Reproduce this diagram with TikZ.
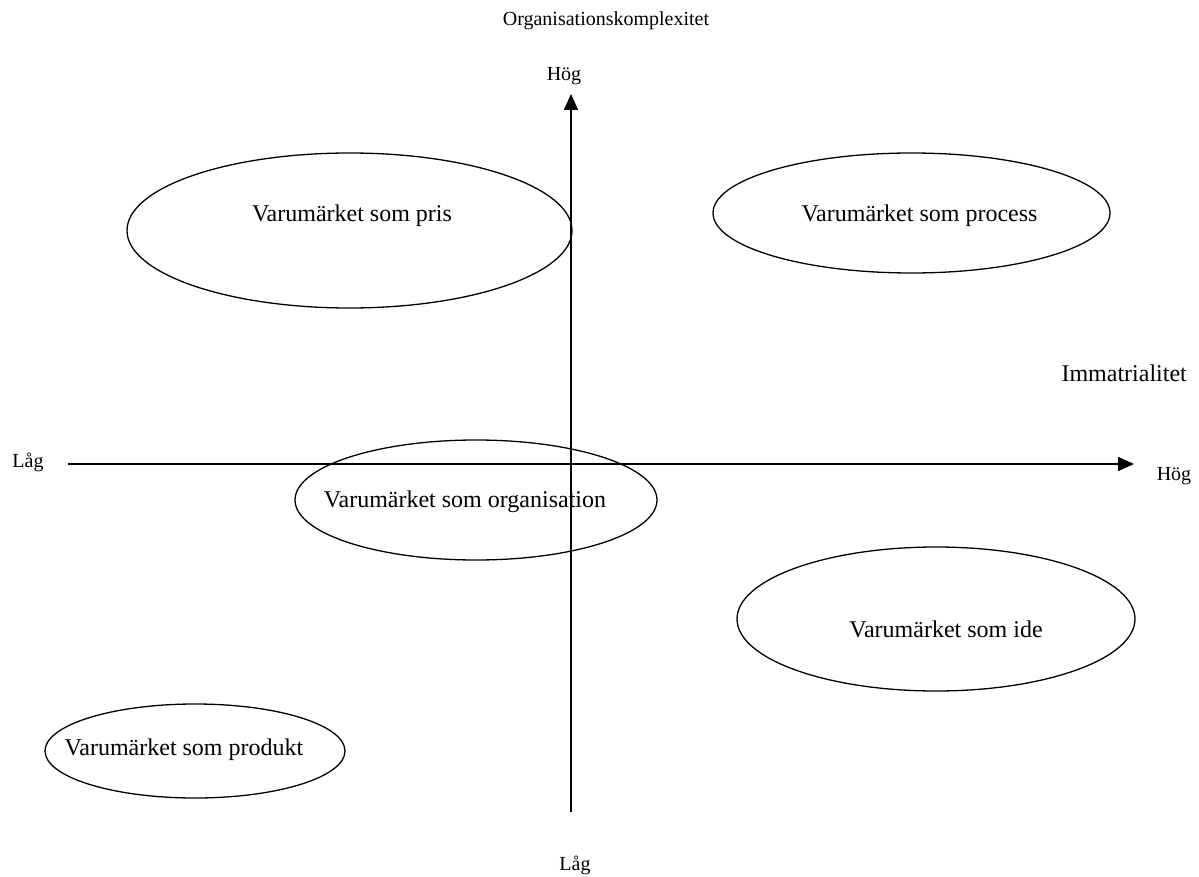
\documentclass[tikz,border=0pt]{standalone}
\usepackage{fontspec}
\setmainfont{Liberation Serif}
\usetikzlibrary{arrows.meta,shapes.geometric}
\begin{document}
\begin{tikzpicture}[x=1pt,y=-1pt,
  axis/.style={line width=1.5pt,-{Triangle[length=16pt,width=14pt]}},
  oval/.style={draw,ellipse,line width=1.3pt,inner sep=0pt},
  big/.style={font=\fontsize{24}{28}\selectfont,inner sep=0pt,anchor=base},
  small/.style={font=\fontsize{20}{24}\selectfont,inner sep=0pt,anchor=base}]
\useasboundingbox (0,0) rectangle (1199,877);

% axes
\coordinate (vlow) at (571,812);
\coordinate (vhigh) at (571,94);
\coordinate (hlow) at (68,464);
\coordinate (hhigh) at (1134,464);
\draw[axis] (vlow) -- (vhigh);
\draw[axis] (hlow) -- (hhigh);

% axis labels
\node[small] (title) at (606,26) {Organisationskomplexitet};
\node[small] (ytop) at (564,81) {Hög};
\node[small] (ybot) at (575,870) {Låg};
\node[small] (xleft) at (28,467) {Låg};
\node[small] (xright) at (1174,480) {Hög};
\node[big,anchor=base east] (xtitle) at (1187,381) {Immatrialitet};

% ovals
\node[oval,minimum width=445pt,minimum height=155pt] (pris) at (349.5,230.5) {};
\node[oval,minimum width=397pt,minimum height=120pt] (process) at (911.5,213) {};
\node[oval,minimum width=362pt,minimum height=120pt] (org) at (476,500) {};
\node[oval,minimum width=398pt,minimum height=144pt] (ide) at (936,619) {};
\node[oval,minimum width=300pt,minimum height=94pt] (produkt) at (195,751) {};

% oval texts
\node[big] (tpris) at (352,222) {Varumärket som pris};
\node[big] (tprocess) at (919.5,222) {Varumärket som process};
\node[big] (torg) at (465,507) {Varumärket som organisation};
\node[big] (tide) at (946,637) {Varumärket som ide};
\node[big] (tprodukt) at (184,755) {Varumärket som produkt};
\end{tikzpicture}
\end{document}
